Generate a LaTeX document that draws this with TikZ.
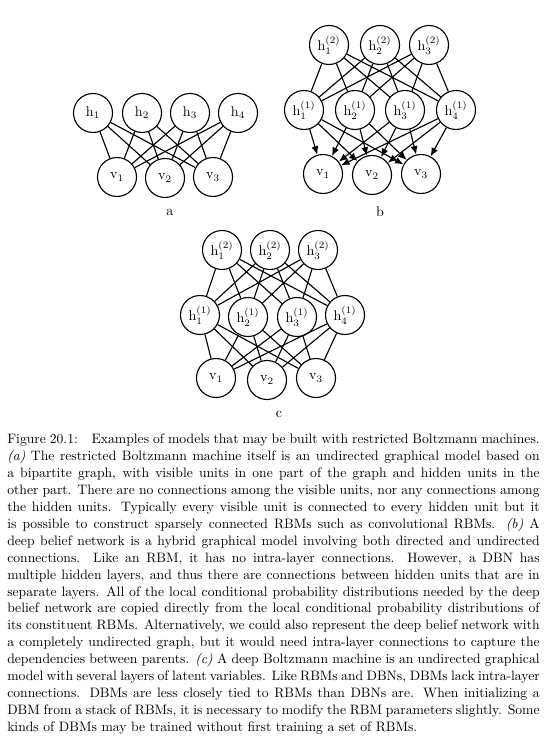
\documentclass[tikz,border=0pt]{standalone}
\usetikzlibrary{arrows.meta}
\tikzset{
  unit/.style={circle, draw, line width=0.8pt, minimum size=27.7pt, inner sep=0pt, font=\normalsize},
  edge/.style={line width=0.8pt},
  arr/.style={line width=0.8pt, -{Latex[length=6pt,width=5pt]}},
  sublabel/.style={font=\normalsize}
}
\begin{document}
\begin{tikzpicture}[x=0.71pt, y=-0.71pt]
\useasboundingbox (0,0) rectangle (547,747);
% ---------------- (a) RBM ----------------
\node[unit] (a-h1) at (93,113) {h$_1$};
\node[unit] (a-h2) at (142,113) {h$_2$};
\node[unit] (a-h3) at (190,113) {h$_3$};
\node[unit] (a-h4) at (238,113) {h$_4$};
\node[unit] (a-v1) at (117,177) {v$_1$};
\node[unit] (a-v2) at (165,178) {v$_2$};
\node[unit] (a-v3) at (213,177) {v$_3$};
\foreach \i in {1,...,4}{\foreach \j in {1,2,3}{\draw[edge] (a-h\i) -- (a-v\j);}}
\node[sublabel] (la) at (170,212) {a};
% ---------------- (b) DBN ----------------
\node[unit] (b-g1) at (329,45) {h$^{(2)}_1$};
\node[unit] (b-g2) at (380,45) {h$^{(2)}_2$};
\node[unit] (b-g3) at (429,45) {h$^{(2)}_3$};
\node[unit] (b-h1) at (304,110) {h$^{(1)}_1$};
\node[unit] (b-h2) at (355,110) {h$^{(1)}_2$};
\node[unit] (b-h3) at (405,110) {h$^{(1)}_3$};
\node[unit] (b-h4) at (456,110) {h$^{(1)}_4$};
\node[unit] (b-v1) at (323,174) {v$_1$};
\node[unit] (b-v2) at (372,175) {v$_2$};
\node[unit] (b-v3) at (421,174) {v$_3$};
\foreach \i in {1,2,3}{\foreach \j in {1,...,4}{\draw[edge] (b-g\i) -- (b-h\j);}}
\foreach \i in {1,...,4}{\foreach \j in {1,2,3}{\draw[arr] (b-h\i) -- (b-v\j);}}
\node[sublabel] (lb) at (380,212) {b};
% ---------------- (c) DBM ----------------
\node[unit] (c-g1) at (222,250) {h$^{(2)}_1$};
\node[unit] (c-g2) at (270,250) {h$^{(2)}_2$};
\node[unit] (c-g3) at (318,250) {h$^{(2)}_3$};
\node[unit] (c-h1) at (200,315) {h$^{(1)}_1$};
\node[unit] (c-h2) at (248,317) {h$^{(1)}_2$};
\node[unit] (c-h3) at (297,317) {h$^{(1)}_3$};
\node[unit] (c-h4) at (345,315) {h$^{(1)}_4$};
\node[unit] (c-v1) at (216,378) {v$_1$};
\node[unit] (c-v2) at (267,380) {v$_2$};
\node[unit] (c-v3) at (316,378) {v$_3$};
\foreach \i in {1,2,3}{\foreach \j in {1,...,4}{\draw[edge] (c-g\i) -- (c-h\j);}}
\foreach \i in {1,...,4}{\foreach \j in {1,2,3}{\draw[edge] (c-h\i) -- (c-v\j);}}
\node[sublabel] (lc) at (279,414) {c};
% ---------------- caption ----------------
\node[anchor=north west, text width=378pt, inner sep=0pt, align=justify, font={\fontsize{9.7pt}{12pt}\selectfont\tolerance=10000\hbadness=10000}] (cap) at (7,434) {%
Figure 20.1:\quad Examples of models that may be built with restricted Boltzmann machines.\linebreak
\textit{(a)} The restricted Boltzmann machine itself is an undirected graphical model based on\linebreak
a bipartite graph, with visible units in one part of the graph and hidden units in the\linebreak
other part. There are no connections among the visible units, nor any connections among\linebreak
the hidden units. Typically every visible unit is connected to every hidden unit but it\linebreak
is possible to construct sparsely connected RBMs such as convolutional RBMs. \textit{(b)} A\linebreak
deep belief network is a hybrid graphical model involving both directed and undirected\linebreak
connections. Like an RBM, it has no intra-layer connections. However, a DBN has\linebreak
multiple hidden layers, and thus there are connections between hidden units that are in\linebreak
separate layers. All of the local conditional probability distributions needed by the deep\linebreak
belief network are copied directly from the local conditional probability distributions of\linebreak
its constituent RBMs. Alternatively, we could also represent the deep belief network with\linebreak
a completely undirected graph, but it would need intra-layer connections to capture the\linebreak
dependencies between parents. \textit{(c)} A deep Boltzmann machine is an undirected graphical\linebreak
model with several layers of latent variables. Like RBMs and DBNs, DBMs lack intra-layer\linebreak
connections. DBMs are less closely tied to RBMs than DBNs are. When initializing a\linebreak
DBM from a stack of RBMs, it is necessary to modify the RBM parameters slightly. Some\linebreak
kinds of DBMs may be trained without first training a set of RBMs.};
\end{tikzpicture}
\end{document}
